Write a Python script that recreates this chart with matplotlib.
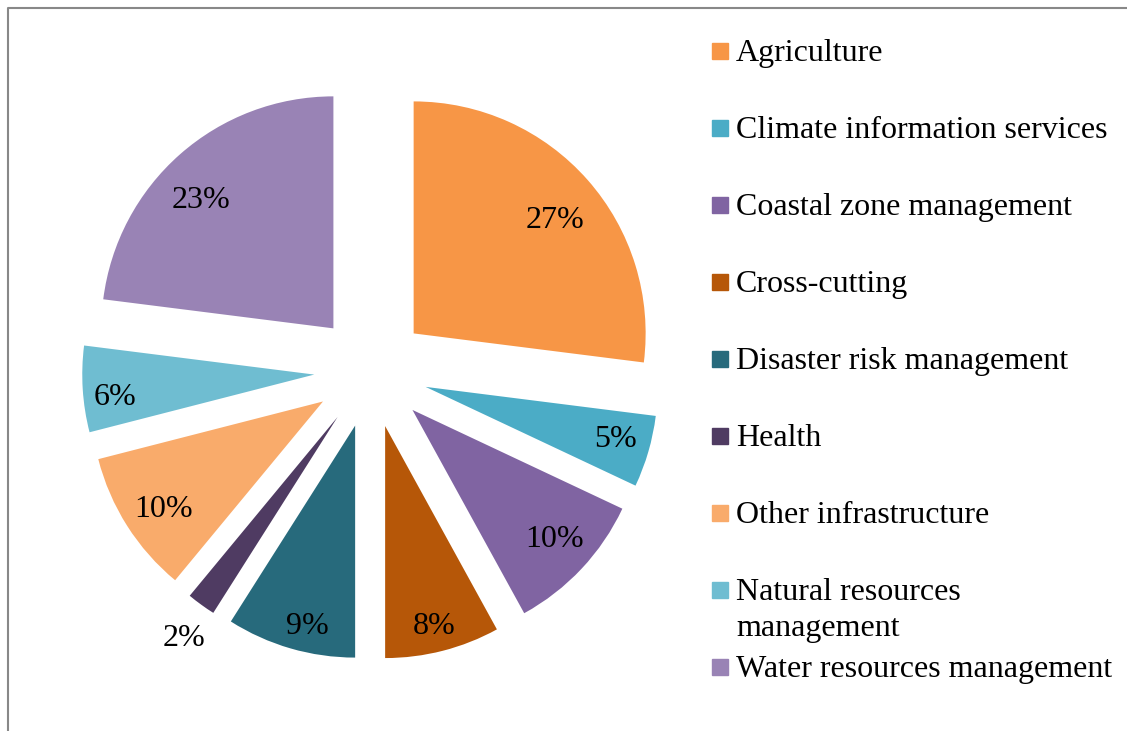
import numpy as np
import matplotlib
matplotlib.use("Agg")
import matplotlib.pyplot as plt
from matplotlib.patches import Rectangle
from matplotlib.lines import Line2D

plt.rcParams["font.family"] = ["Liberation Serif", "DejaVu Serif"]

# -----------------------------------------------------------------------------
# Data
# -----------------------------------------------------------------------------

categories = [
    "Agriculture",
    "Climate information services",
    "Coastal zone management",
    "Cross-cutting",
    "Disaster risk management",
    "Health",
    "Other infrastructure",
    "Natural resources\nmanagement",
    "Water resources management",
]
shares = [27, 5, 10, 8, 9, 2, 10, 6, 23]
colors = [
    "#F79646", "#4BACC6", "#8064A2", "#B65708", "#276A7C",
    "#4F3B62", "#F9AB6B", "#6FBDD1", "#9983B5",
]

# label placement per slice: distance from the slice tip (in radii) and
# turn from the slice's mid angle (degrees)
label_dist = [0.78, 0.85, 0.83, 0.89, 0.89, 1.16, 0.83, 0.865, 0.795]
label_turn = [-2.6, 0.6, 0.8, -0.7, 2.7, 1.3, 1.7, 3.1, 4.5]

# -----------------------------------------------------------------------------
# Figure
# -----------------------------------------------------------------------------

W, H = 1127, 731
fig = plt.figure(figsize=(W / 100, H / 100), dpi=100)

cx, cy, R = 371, 371, 232  # pie centre and radius in pixels (y from top)
explode = 0.245
ax = fig.add_axes([0, 0, 1, 1])

wedges, texts, autotexts = ax.pie(
    shares,
    colors=colors,
    startangle=90,
    counterclock=False,
    explode=[explode] * len(shares),
    autopct="%d%%",
    pctdistance=0.83,
    wedgeprops=dict(linewidth=0),
    textprops=dict(fontsize=23, color="black"),
)
ax.set_aspect("auto")
ax.set_xlim(-cx / R, (W - cx) / R)
ax.set_ylim(-(H - cy) / R, cy / R)
ax.axis("off")

# reposition the percentage labels
for w, t, dist, turn in zip(wedges, autotexts, label_dist, label_turn):
    tm = np.deg2rad((w.theta1 + w.theta2) / 2)
    tl = tm + np.deg2rad(turn)
    x0, y0 = explode * np.cos(tm), explode * np.sin(tm)
    t.set_position((x0 + dist * np.cos(tl), y0 + dist * np.sin(tl)))

# legend drawn by hand
baselines = [61, 138, 215, 292, 369, 446, 523, 600, 677]
for name, col, yb in zip(categories, colors, baselines):
    fig.patches.append(Rectangle((712 / W, 1 - (yb - 2) / H), 16 / W, 16 / H,
                                 transform=fig.transFigure, color=col,
                                 zorder=5))
    for k, line in enumerate(name.split("\n")):
        fig.text(736 / W, 1 - (yb + 36 * k) / H, line, fontsize=23,
                 va="baseline", ha="left")

# frame (left and top edges)
fig.lines.append(Line2D([8 / W, 8 / W, 1], [0, 1 - 8 / H, 1 - 8 / H],
                        transform=fig.transFigure, color="#888888", lw=1.5))

fig.savefig("out.png", dpi=100)
